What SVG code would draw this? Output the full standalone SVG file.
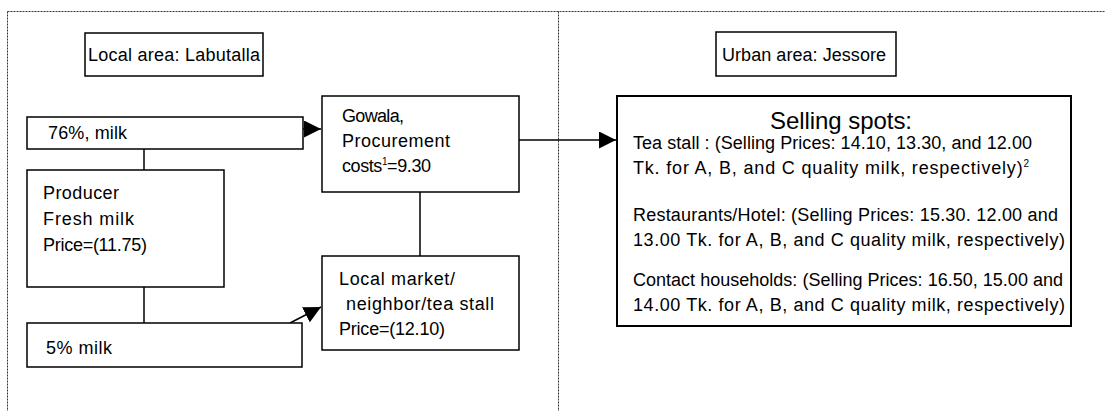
<svg xmlns="http://www.w3.org/2000/svg" width="1106" height="411" viewBox="0 0 1106 411">
<style>
.box{fill:#fff;stroke:#000;stroke-width:1.5}
.thick{stroke-width:2}
.dot{fill:none;stroke:#333;stroke-width:1;stroke-dasharray:2 1}
.ln{fill:none;stroke:#000;stroke-width:1.5}
text{font-family:"Liberation Sans",Arial,sans-serif;font-size:18px;fill:#000}
.big{font-size:24px}
.sup{font-size:10px}
</style>
<defs>
<marker id="ah" markerUnits="userSpaceOnUse" markerWidth="17" markerHeight="17" refX="16" refY="8" orient="auto" viewBox="0 0 16 16">
<path d="M0,0 L16,8 L0,16 z" fill="#000"/>
</marker>
</defs>
<g id="frame">
<path class="dot" d="M7.5,11.5 H1105 M7.5,11.5 V411 M558.5,11.5 V411"/>
</g>
<g id="connectors">
<line class="ln" x1="303" y1="129" x2="321" y2="129" marker-end="url(#ah)"/>
<line class="ln" x1="144" y1="149" x2="144" y2="170"/>
<line class="ln" x1="144" y1="287" x2="144" y2="323"/>
<line class="ln" x1="420" y1="192" x2="420" y2="256"/>
<line class="ln" x1="290" y1="323" x2="321" y2="307" marker-end="url(#ah)"/>
<line class="ln" x1="519" y1="140" x2="616" y2="140" marker-end="url(#ah)"/>
</g>
<g id="local-label">
<rect class="box" x="85" y="33" width="178" height="43"/>
<text x="88" y="61" textLength="172">Local area: Labutalla</text>
</g>
<g id="urban-label">
<rect class="box" x="716" y="32" width="180" height="44"/>
<text x="722" y="61" textLength="164">Urban area: Jessore</text>
</g>
<g id="milk76">
<rect class="box" x="27" y="117" width="276" height="32"/>
<text x="48" y="139" textLength="79">76%, milk</text>
</g>
<g id="gowala">
<rect class="box" x="322" y="96" width="197" height="96"/>
<text x="342" y="122" textLength="62">Gowala,</text>
<text x="342" y="147" textLength="108">Procurement</text>
<text x="342" y="172" textLength="89">costs<tspan class="sup" dy="-7">1</tspan><tspan dy="7">=9.30</tspan></text>
</g>
<g id="producer">
<rect class="box" x="27" y="170" width="197" height="117"/>
<text x="43" y="199" textLength="76">Producer</text>
<text x="43" y="225" textLength="91">Fresh milk</text>
<text x="43" y="251" textLength="104">Price=(11.75)</text>
</g>
<g id="milk5">
<rect class="box" x="27" y="323" width="275" height="44"/>
<text x="46" y="354" textLength="66">5% milk</text>
</g>
<g id="local-market">
<rect class="box" x="322" y="256" width="197" height="94"/>
<text x="339" y="285" textLength="116">Local market/</text>
<text x="346" y="310" textLength="148">neighbor/tea stall</text>
<text x="339" y="335" textLength="106">Price=(12.10)</text>
</g>
<g id="selling-spots">
<rect class="box thick" x="617" y="96" width="454" height="230"/>
<text class="big" x="770" y="129" textLength="142">Selling spots:</text>
<text x="633" y="149" textLength="399">Tea stall : (Selling Prices: 14.10, 13.30, and 12.00</text>
<text x="633" y="174" textLength="396">Tk. for A, B, and C quality milk, respectively)<tspan class="sup" dy="-7">2</tspan></text>
<text x="633" y="221" textLength="425">Restaurants/Hotel: (Selling Prices: 15.30. 12.00 and</text>
<text x="633" y="246" textLength="432">13.00 Tk. for A, B, and C quality milk, respectively)</text>
<text x="633" y="286" textLength="430">Contact households: (Selling Prices: 16.50, 15.00 and</text>
<text x="633" y="311" textLength="432">14.00 Tk. for A, B, and C quality milk, respectively)</text>
</g>
</svg>
